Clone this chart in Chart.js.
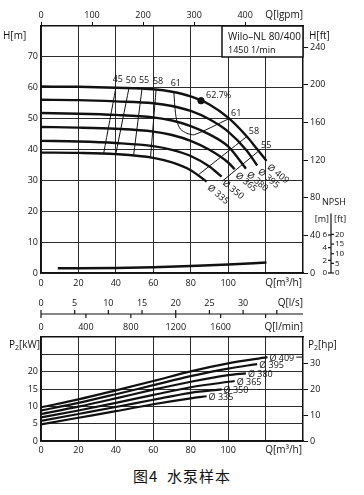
<!DOCTYPE html>
<html>
<head>
<meta charset="utf-8">
<script src="https://cdn.jsdelivr.net/npm/chart.js"></script>
<style>
body{margin:0;background:#fff;width:364px;height:495px;overflow:hidden;position:relative}
canvas{position:absolute;left:0}
#head{top:0}
#power{top:288px}
#cap{position:absolute;top:465px;left:0;width:364px;text-align:center;font:15px "Noto Sans CJK SC",sans-serif;color:#111;letter-spacing:1px}
</style>
</head>
<body>
<canvas id="head" width="364" height="288"></canvas>
<canvas id="power" width="364" height="172"></canvas>
<div id="cap">图4&nbsp;&nbsp;水泵样本</div>
<script>
// unit conversions
const M3H_PER_IGPM = 0.272765;
const M_PER_FT = 0.3048;
const KW_PER_HP = 0.7457;

// impeller diameters
const diameters = ['409', '395', '380', '365', '350', '335'];

// Q-H curves (Q m3/h, H m)
const headQ = [
    [0, 20, 40, 60, 70, 80, 90, 100, 110, 115, 120.5],
    [0, 20, 40, 60, 70, 80, 90, 100, 110, 115.5],
    [0, 20, 40, 60, 70, 80, 90, 100, 109.5],
    [0, 20, 40, 60, 70, 80, 90, 100, 103.5],
    [0, 20, 40, 60, 70, 80, 90, 96.5],
    [0, 20, 40, 60, 70, 80, 88.5]
];
const headH = [
    [60.4, 60.3, 60.0, 59.5, 58.7, 57.2, 54.6, 50.3, 44.2, 40.5, 36.3],
    [56.1, 56.0, 55.6, 55.0, 54.1, 52.5, 49.8, 45.8, 39.6, 34.8],
    [51.8, 51.6, 51.2, 50.4, 49.4, 47.6, 44.9, 41.0, 33.8],
    [47.3, 47.1, 46.7, 45.8, 44.7, 42.8, 39.9, 35.8, 33.6],
    [42.8, 42.6, 42.1, 41.1, 39.9, 37.9, 34.5, 31.2],
    [39.0, 38.9, 38.5, 37.3, 35.8, 33.3, 29.6]
];

// efficiency lines (%)
const effLabels = ['45', '50', '55', '58', '61', '61', '58', '55'];
const effQ = [[40, 33.5], [47, 40], [54, 49.5], [61.5, 58.5], [71, 71.5, 72.5, 74.5, 78], [100.5, 82, 78], [110, 84.5], [116.5, 97]];
const effH = [[60.0, 38.8], [59.9, 38.6], [59.8, 38.2], [59.4, 37.3], [58.8, 54.0, 49.5, 46.6, 45.2], [50.0, 44.8, 45.2], [44.2, 32.0], [39.6, 29.8]];

// best efficiency point
const bestQ = 85.5;
const bestH = 55.8;
const bestLabel = '62.7%';

// NPSH (m)
const npshQ = [9, 20, 40, 60, 80, 100, 120.5];
const npshM = [0.75, 0.75, 0.78, 0.9, 1.1, 1.35, 1.65];

// P2 curves (kW)
const powerQ = [
    [0, 20, 40, 60, 80, 100, 121],
    [0, 20, 40, 60, 80, 100, 115.5],
    [0, 20, 40, 60, 80, 100, 109.5],
    [0, 20, 40, 60, 80, 103.5],
    [0, 20, 40, 60, 80, 96.5],
    [0, 20, 40, 60, 80, 88.5]
];
const powerKW = [
    [9.7, 12.0, 14.6, 17.3, 20.1, 22.4, 24.2],
    [8.8, 11.0, 13.5, 16.1, 18.7, 20.9, 22.2],
    [7.8, 9.9, 12.3, 14.8, 17.1, 19.0, 19.5],
    [6.8, 8.8, 11.0, 13.3, 15.5, 17.3],
    [5.8, 7.8, 9.8, 11.9, 13.9, 14.9],
    [4.8, 6.7, 8.6, 10.6, 12.3, 12.9]
];

// ticks
const qTicks = [0, 20, 40, 60, 80, 100, 120];
const hTicks = [0, 10, 20, 30, 40, 50, 60, 70];
const ftTicks = [0, 40, 80, 120, 160, 200, 240];
const igpmTicks = [0, 100, 200, 300, 400];
const npshMTicks = [0, 2, 4, 6];
const npshFtTicks = [0, 5, 10, 15, 20];
const lsTicks = [0, 5, 10, 15, 20, 25, 30, 35];
const lminTicks = [0, 400, 800, 1200, 1600, 2000];
const kwTicks = [0, 5, 10, 15, 20, 25];
const hpTicks = [0, 10, 20, 30];

const INK = '#111';
const GRID = '#2b2b2b';
const FONT = '"Open Sans", sans-serif';

function pts(xs, ys) {
    return xs.map((x, i) => ({x: x, y: ys[i]}));
}
function setTicks(arr) {
    return s => { s.ticks = arr.map(v => ({value: v})); };
}
function txt(ctx, s, x, y, align, size) {
    ctx.font = (size || 9) + 'px ' + FONT;
    ctx.textAlign = align || 'left';
    ctx.textBaseline = 'middle';
    ctx.fillText(s, x, y);
}
function pLabel(ctx, x, y, unit) {
    ctx.font = '10px ' + FONT;
    ctx.textAlign = 'left';
    ctx.textBaseline = 'middle';
    ctx.fillText('P', x, y);
    let w = ctx.measureText('P').width;
    ctx.font = '7px ' + FONT;
    ctx.fillText('2', x + w, y + 3);
    w += ctx.measureText('2').width;
    ctx.font = '10px ' + FONT;
    ctx.fillText(unit, x + w, y);
}

// ---------- top chart: head ----------
let headSets = [];
diameters.forEach((d, i) => {
    headSets.push({data: pts(headQ[i], headH[i]), borderColor: INK, borderWidth: 2.4,
        pointRadius: 0, cubicInterpolationMode: 'monotone', yAxisID: 'y'});
});
effQ.forEach((q, i) => {
    headSets.push({data: pts(q, effH[i]), borderColor: INK, borderWidth: 1,
        pointRadius: 0, tension: 0.3, yAxisID: 'y'});
});
headSets.push({data: pts(npshQ, npshM), borderColor: INK, borderWidth: 2.4,
    pointRadius: 0, cubicInterpolationMode: 'monotone', yAxisID: 'yN'});
headSets.push({data: [{x: bestQ, y: bestH}], showLine: false, pointRadius: 3.2,
    pointBackgroundColor: INK, pointBorderColor: INK, yAxisID: 'y'});

const headDeco = {
    id: 'headDeco',
    afterDraw(c) {
        const ctx = c.ctx, x = c.scales.x, y = c.scales.y, yN = c.scales.yN, a = c.chartArea;
        ctx.save();
        ctx.fillStyle = INK;
        ctx.strokeStyle = INK;

        // model box
        ctx.fillStyle = '#fff';
        ctx.fillRect(a.right - 81, a.top, 81, 31);
        ctx.lineWidth = 1.5;
        ctx.strokeRect(a.right - 81, a.top, 81, 31);
        ctx.fillStyle = INK;
        txt(ctx, 'Wilo–NL 80/400', a.right - 75, a.top + 11, 'left', 10);
        txt(ctx, '1450 1/min', a.right - 75, a.top + 24, 'left', 9);

        // axis titles
        txt(ctx, 'H[m]', 3, 36, 'left', 10);
        txt(ctx, 'H[ft]', 309, 36, 'left', 10);
        txt(ctx, 'Q[lgpm]', a.right, 15, 'right', 10);
        txt(ctx, 'Q[m³/h]', a.right - 1, 283, 'right', 10);

        // efficiency labels
        effLabels.forEach((lab, i) => {
            const px = x.getPixelForValue(effQ[i][0]);
            const py = y.getPixelForValue(effH[i][0]);
            if (i < 5) txt(ctx, lab, px + 2, py - 8, 'center', 9);
            else txt(ctx, lab, px + 2, py - 5, 'left', 9);
        });

        // best point label
        txt(ctx, bestLabel, x.getPixelForValue(bestQ) + 5, y.getPixelForValue(bestH) - 5, 'left', 9);

        // diameter labels at curve ends
        diameters.forEach((d, i) => {
            const n = headQ[i].length - 1;
            const px = x.getPixelForValue(headQ[i][n]);
            const py = y.getPixelForValue(headH[i][n]);
            ctx.save();
            ctx.translate(px + 2, py + 5);
            ctx.rotate(40 * Math.PI / 180);
            txt(ctx, 'Ø ' + d, 0, 0, 'left', 9);
            ctx.restore();
        });

        // NPSH scale
        const rx = 331;
        ctx.lineWidth = 1.2;
        ctx.beginPath();
        ctx.moveTo(rx, yN.getPixelForValue(0));
        ctx.lineTo(rx, yN.getPixelForValue(9.4));
        ctx.stroke();
        npshMTicks.forEach(v => {
            const py = yN.getPixelForValue(v);
            ctx.beginPath(); ctx.moveTo(rx - 3, py); ctx.lineTo(rx, py); ctx.stroke();
            txt(ctx, String(v), rx - 4, py, 'right', 8);
        });
        npshFtTicks.forEach(v => {
            const py = yN.getPixelForValue(v * M_PER_FT);
            ctx.beginPath(); ctx.moveTo(rx, py); ctx.lineTo(rx + 3, py); ctx.stroke();
            txt(ctx, String(v), rx + 4, py, 'left', 8);
        });
        txt(ctx, 'NPSH', 322, 202, 'left', 9);
        txt(ctx, '[m]', rx - 2, 219, 'right', 9);
        txt(ctx, '[ft]', rx + 3, 219, 'left', 9);
        ctx.restore();
    }
};

new Chart(document.getElementById('head'), {
    type: 'line',
    data: {datasets: headSets},
    options: {
        responsive: false,
        animation: false,
        layout: {padding: 0},
        plugins: {legend: {display: false}, tooltip: {enabled: false}},
        scales: {
            x: {
                type: 'linear', position: 'bottom', min: 0, max: 140,
                afterBuildTicks: setTicks(qTicks),
                afterFit: s => { s.height = 15; },
                grid: {color: GRID, lineWidth: 1, drawTicks: false},
                border: {color: INK, width: 1.5},
                ticks: {color: INK, padding: 5, font: {size: 9, family: FONT},
                    callback: v => v <= 100 ? String(v) : ''}
            },
            xTop: {
                type: 'linear', position: 'top', min: 0, max: 140 / M3H_PER_IGPM,
                afterBuildTicks: setTicks(igpmTicks),
                afterFit: s => { s.height = 26; },
                grid: {drawOnChartArea: false, color: INK, tickLength: 4},
                border: {color: INK, width: 1.5},
                ticks: {color: INK, padding: 1, maxRotation: 0, font: {size: 9, family: FONT}}
            },
            y: {
                type: 'linear', position: 'left', min: 0, max: 80,
                afterBuildTicks: setTicks(hTicks),
                afterFit: s => { s.width = 41; },
                grid: {color: GRID, lineWidth: 1, drawTicks: false},
                border: {color: INK, width: 1.5},
                ticks: {color: INK, padding: 3, font: {size: 9, family: FONT}}
            },
            yFt: {
                type: 'linear', position: 'right', min: 0, max: 80 / M_PER_FT,
                afterBuildTicks: setTicks(ftTicks),
                afterFit: s => { s.width = 61; },
                grid: {drawOnChartArea: false, color: INK, tickLength: 5},
                border: {color: INK, width: 1.5},
                ticks: {color: INK, padding: 2, font: {size: 9, family: FONT}}
            },
            yN: {
                type: 'linear', display: false, min: 0, max: 39
            }
        }
    },
    plugins: [headDeco]
});

// ---------- bottom chart: power ----------
let powerSets = diameters.map((d, i) => ({
    data: pts(powerQ[i], powerKW[i]), borderColor: INK, borderWidth: 2.2,
    pointRadius: 0, cubicInterpolationMode: 'monotone'
}));

const powerDeco = {
    id: 'powerDeco',
    afterDraw(c) {
        const ctx = c.ctx, x = c.scales.x, y = c.scales.y, a = c.chartArea;
        ctx.save();
        ctx.fillStyle = INK;
        ctx.strokeStyle = INK;

        // Q rulers in l/s and l/min
        const y0 = 26;
        ctx.lineWidth = 1.2;
        ctx.beginPath();
        ctx.moveTo(x.getPixelForValue(0), y0);
        ctx.lineTo(a.right, y0);
        ctx.stroke();
        lsTicks.forEach(v => {
            const px = x.getPixelForValue(v * 3.6);
            ctx.beginPath(); ctx.moveTo(px, y0 - 4); ctx.lineTo(px, y0); ctx.stroke();
            if (v <= 30) txt(ctx, String(v), px, y0 - 11, 'center', 9);
        });
        lminTicks.forEach(v => {
            const px = x.getPixelForValue(v * 0.06);
            ctx.beginPath(); ctx.moveTo(px, y0); ctx.lineTo(px, y0 + 4); ctx.stroke();
            if (v <= 1600) txt(ctx, String(v), px, y0 + 13, 'center', 9);
        });
        txt(ctx, 'Q[l/s]', a.right, y0 - 11, 'right', 10);
        txt(ctx, 'Q[l/min]', a.right, y0 + 13, 'right', 10);

        // axis titles
        pLabel(ctx, 9, 57, '[kW]');
        pLabel(ctx, 308, 57, '[hp]');
        txt(ctx, 'Q[m³/h]', a.right - 1, 162, 'right', 10);

        // diameter labels
        diameters.forEach((d, i) => {
            const n = powerQ[i].length - 1;
            const px = x.getPixelForValue(powerQ[i][n]);
            const py = y.getPixelForValue(powerKW[i][n]);
            txt(ctx, 'Ø ' + d, px + 2, py + 1, 'left', 9);
            if (i === 0) {
                ctx.font = '9px ' + FONT;
                const w = ctx.measureText('Ø ' + d).width;
                ctx.lineWidth = 1;
                ctx.beginPath(); ctx.moveTo(px + 4 + w, py); ctx.lineTo(a.right, py); ctx.stroke();
            }
        });
        ctx.restore();
    }
};

new Chart(document.getElementById('power'), {
    type: 'line',
    data: {datasets: powerSets},
    options: {
        responsive: false,
        animation: false,
        layout: {padding: {top: 49, left: 0, right: 0, bottom: 0}},
        plugins: {legend: {display: false}, tooltip: {enabled: false}},
        scales: {
            x: {
                type: 'linear', position: 'bottom', min: 0, max: 140,
                afterBuildTicks: setTicks(qTicks),
                afterFit: s => { s.height = 19; },
                grid: {color: GRID, lineWidth: 1, drawTicks: false},
                border: {color: INK, width: 1.5},
                ticks: {color: INK, padding: 4, font: {size: 9, family: FONT},
                    callback: v => v <= 100 ? String(v) : ''}
            },
            xTop: {
                type: 'linear', position: 'top', min: 0, max: 140,
                afterBuildTicks: setTicks([]),
                afterFit: s => { s.height = 0; },
                grid: {display: false},
                border: {color: INK, width: 1.5},
                ticks: {display: false}
            },
            y: {
                type: 'linear', position: 'left', min: 0, max: 30,
                afterBuildTicks: setTicks(kwTicks),
                afterFit: s => { s.width = 41; },
                grid: {color: GRID, lineWidth: 1, drawTicks: false},
                border: {color: INK, width: 1.5},
                ticks: {color: INK, padding: 3, font: {size: 9, family: FONT},
                    callback: v => v <= 20 ? String(v) : ''}
            },
            yHp: {
                type: 'linear', position: 'right', min: 0, max: 30 / KW_PER_HP,
                afterBuildTicks: setTicks(hpTicks),
                afterFit: s => { s.width = 61; },
                grid: {drawOnChartArea: false, color: INK, tickLength: 5},
                border: {color: INK, width: 1.5},
                ticks: {color: INK, padding: 2, font: {size: 9, family: FONT}}
            }
        }
    },
    plugins: [powerDeco]
});
</script>
</body>
</html>
